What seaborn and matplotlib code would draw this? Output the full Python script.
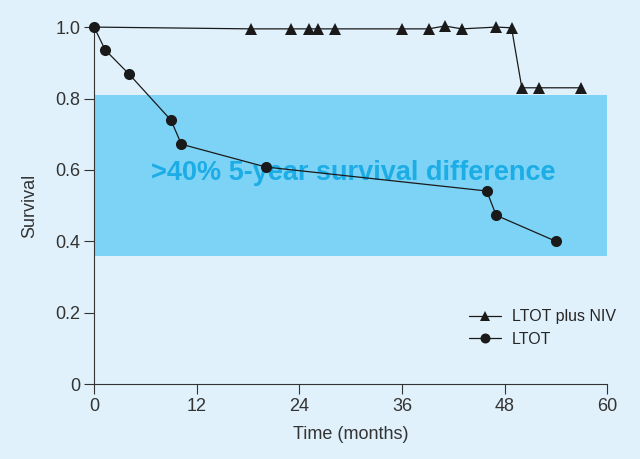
import pandas as pd
import matplotlib.pyplot as plt
import seaborn as sns

# survival curves
niv_months = [0, 18.3, 23.0, 25.1, 26.2, 28.2, 36.0, 39.1, 41.0, 43.0, 47.0, 48.8, 50.0, 52.0, 56.9]
niv_survival = [1.0, 0.995, 0.995, 0.995, 0.995, 0.995, 0.995, 0.995, 1.003, 0.995, 1.0, 0.998, 0.83, 0.83, 0.83]

ltot_months = [0, 1.3, 4.1, 9.0, 10.2, 20.1, 45.9, 47.0, 54.0]
ltot_survival = [1.0, 0.936, 0.868, 0.739, 0.672, 0.608, 0.541, 0.473, 0.40]

group_names = ["LTOT plus NIV", "LTOT"]

# shaded band marking the gap
band_low, band_high = 0.36, 0.81
band_text = ">40% 5-year survival difference"

x_ticks = [0, 12, 24, 36, 48, 60]
y_ticks = [0, 0.2, 0.4, 0.6, 0.8, 1.0]
y_tick_labels = ["0", "0.2", "0.4", "0.6", "0.8", "1.0"]

bg_color = "#E0F1FB"
band_color = "#7CD3F5"
text_color = "#1CADE6"
ink = "#1a1a1a"
grey = "#333333"

df = pd.concat([
    pd.DataFrame({"month": niv_months, "survival": niv_survival, "group": group_names[0]}),
    pd.DataFrame({"month": ltot_months, "survival": ltot_survival, "group": group_names[1]}),
])

sns.set_style("ticks")
plt.rcParams["font.family"] = ["Liberation Sans", "DejaVu Sans"]

fig = plt.figure(figsize=(6.4, 4.59), dpi=100)
fig.patch.set_facecolor(bg_color)
ax = fig.add_axes([0.147, 0.163, 0.802, 0.778])
ax.set_facecolor(bg_color)

# band behind everything
ax.axhspan(band_low, band_high, xmin=0, xmax=1, color=band_color, lw=0, zorder=0)
ax.text(30.3, 0.59, band_text, color=text_color, fontsize=19.5, fontweight="bold",
        ha="center", va="center", zorder=1)

sns.lineplot(
    data=df, x="month", y="survival", style="group", style_order=group_names,
    markers={"LTOT plus NIV": "^", "LTOT": "o"}, dashes=False, color=ink,
    markersize=8, linewidth=0.9, markeredgewidth=0, clip_on=False, zorder=3, ax=ax,
)

ax.set_xlim(0, 60)
ax.set_ylim(0, 1.0)
ax.set_xticks(x_ticks)
ax.set_yticks(y_ticks)
ax.set_yticklabels(y_tick_labels)
ax.tick_params(colors=grey, labelsize=13, length=7, width=0.8, pad=3)
ax.set_xlabel("Time (months)", fontsize=13, color=grey, labelpad=8)
ax.set_ylabel("Survival", fontsize=13, color=grey, labelpad=12)

sns.despine(ax=ax)
for side in ["left", "bottom"]:
    ax.spines[side].set_color(grey)
    ax.spines[side].set_linewidth(0.8)

ax.legend(title=None, frameon=False, loc="lower right", bbox_to_anchor=(1.045, 0.065),
          fontsize=11.5, handlelength=2.0, labelspacing=0.45, handletextpad=0.7,
          markerscale=0.9)

# triangle series has no marker at t=0 (only the circle shows there)
ax.lines[0].set_markevery(list(range(1, len(niv_months))))

fig.savefig("out.png", dpi=100, facecolor=bg_color)
